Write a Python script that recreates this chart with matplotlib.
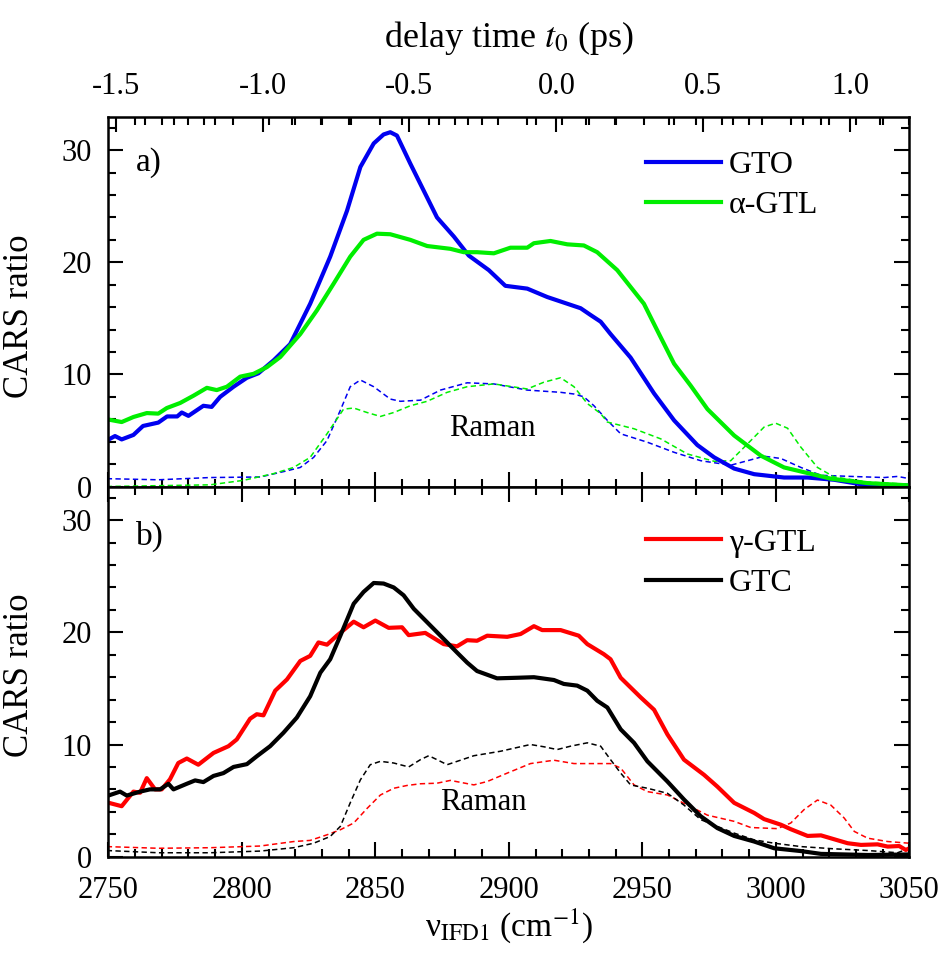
import matplotlib
matplotlib.use("Agg")
import matplotlib.pyplot as plt
from matplotlib.ticker import MultipleLocator, FixedLocator, FormatStrFormatter

plt.rcParams['font.family'] = ['Liberation Serif', 'DejaVu Serif']
plt.rcParams['mathtext.fontset'] = 'stix'
plt.rcParams['axes.unicode_minus'] = False

# panel a) GTO / alpha-GTL, CARS ratio (solid) and Raman (dashed)
nu_gto = [2749.4, 2752.5, 2755, 2759.4, 2763, 2768.7, 2772, 2775.8, 2777.5, 2780, 2785.6, 2788.7,
          2791.9, 2796.9, 2801.9, 2806.2, 2811.9, 2818.1, 2825.6, 2833.1, 2839.4, 2844.4, 2849.4,
          2853.1, 2855.6, 2858.1, 2863.1, 2868.1, 2873.1, 2879.4, 2885, 2892.5, 2898.7, 2906.9,
          2914.4, 2919.4, 2926.9, 2930.6, 2934.4, 2938.1, 2945.6, 2954.4, 2961.9, 2970.6, 2976.9,
          2984.4, 2991.9, 3003.1, 3011.9, 3021.9, 3034.4, 3050]
gto = [4.1, 4.5, 4.2, 4.6, 5.4, 5.7, 6.25, 6.25, 6.6, 6.3, 7.2, 7.1,
       8.0, 8.9, 9.7, 10.1, 11.25, 12.7, 16.3, 20.5, 24.6, 28.5, 30.6,
       31.4, 31.6, 31.3, 28.8, 26.4, 24.0, 22.3, 20.6, 19.3, 17.9, 17.65,
       16.9, 16.5, 15.9, 15.3, 14.7, 13.6, 11.5, 8.3, 5.9, 3.7, 2.6,
       1.6, 1.1, 0.8, 0.8, 0.6, 0.1, 0.1]

nu_agtl = [2749.4, 2755, 2759.4, 2764.4, 2768.7, 2771.9, 2776.9, 2781.9, 2786.9, 2790.6, 2794.4,
           2799.4, 2804.4, 2809.4, 2814.4, 2821.9, 2828.1, 2834.4, 2840.6, 2845.6, 2850.6, 2855.6,
           2863.1, 2869.4, 2878.1, 2883.1, 2888.1, 2894.4, 2900.6, 2906.9, 2909.4, 2915.6, 2921.9,
           2928.1, 2933.1, 2940.6, 2950.6, 2956.9, 2961.9, 2968.1, 2974.4, 2984.4, 2994.4, 3003.1,
           3011.9, 3020.6, 3034.4, 3050]
agtl = [6.0, 5.75, 6.2, 6.55, 6.5, 7.0, 7.45, 8.1, 8.8, 8.6, 8.9,
        9.8, 10.05, 10.65, 11.55, 13.6, 15.7, 18.1, 20.5, 22.0, 22.55, 22.5,
        22.0, 21.45, 21.2, 20.9, 20.9, 20.8, 21.3, 21.3, 21.7, 21.9, 21.6,
        21.5, 20.9, 19.3, 16.3, 13.3, 10.95, 9.0, 6.9, 4.55, 2.75, 1.7,
        1.2, 0.7, 0.3, 0.1]

nu_gto_r = [2749.4, 2768.7, 2788.1, 2806.9, 2816.9, 2821.9, 2826.9, 2831.9, 2836.9, 2840.6, 2844.4,
            2849.4, 2855.6, 2859.4, 2866.9, 2874.4, 2884.4, 2894.4, 2906.9, 2919.4, 2924.4, 2928.1,
            2931.9, 2936.9, 2941.9, 2951.9, 2961.9, 2971.9, 2983.1, 2989.4, 2995.6, 3001.9, 3009.4,
            3016.9, 3028.1, 3040.6, 3045.6, 3050]
gto_r = [0.7, 0.6, 0.8, 0.85, 1.4, 1.7, 2.6, 4.1, 6.8, 8.9, 9.5,
         8.9, 7.8, 7.6, 7.7, 8.6, 9.25, 9.15, 8.6, 8.4, 8.25, 8.0,
         7.2, 5.9, 4.7, 3.95, 3.05, 2.3, 1.9, 2.3, 2.7, 2.5, 1.7,
         1.0, 0.9, 0.8, 0.9, 0.7]

nu_agtl_r = [2749.4, 2788.1, 2800.6, 2811.9, 2819.4, 2825.6, 2831.9, 2838.1, 2841.9, 2846.9, 2851.9,
             2856.9, 2863.1, 2869.4, 2876.9, 2884.4, 2894.4, 2906.9, 2913.1, 2919.4, 2924.4, 2929.4,
             2934.4, 2936.9, 2946.9, 2956.9, 2966.9, 2976.9, 2983.1, 2989.4, 2995.6, 2999.9, 3004.4,
             3009.4, 3015.6, 3021.9, 3034.4, 3050]
agtl_r = [0.0, 0.15, 0.55, 1.15, 1.7, 2.6, 4.7, 6.9, 7.0, 6.6, 6.25,
          6.6, 7.2, 7.6, 8.4, 8.9, 9.15, 8.7, 9.3, 9.7, 8.9, 7.4,
          6.5, 5.75, 5.15, 4.25, 2.9, 2.25, 2.3, 3.8, 5.3, 5.65, 5.2,
          3.5, 1.7, 0.85, 0.4, 0.2]

# panel b) gamma-GTL / GTC
nu_ggtl = [2749.4, 2755, 2759.4, 2761.9, 2764.4, 2767.5, 2770, 2773.1, 2776.2, 2779.4, 2783.7,
           2789.4, 2795, 2798.1, 2803.1, 2805.6, 2808.1, 2812.5, 2816.9, 2821.9, 2825.6, 2828.7,
           2831.9, 2835.6, 2841.9, 2845.6, 2850, 2855, 2860, 2862.5, 2868.7, 2875.6, 2880.6,
           2884.4, 2888.1, 2891.9, 2899.4, 2904.4, 2909.4, 2912.5, 2919.4, 2926.2, 2929.4, 2935.6,
           2938.1, 2941.9, 2949.4, 2954.4, 2959.4, 2965.6, 2973.1, 2978.1, 2984.4, 2991.9, 2995.6,
           3001.9, 3005.6, 3011.9, 3016.9, 3021.9, 3026.9, 3031.9, 3038.1, 3041.9, 3046.2, 3048.7,
           3050]
ggtl = [4.85, 4.5, 5.8, 5.7, 7.0, 6.0, 6.0, 6.9, 8.35, 8.75, 8.2,
        9.25, 9.85, 10.45, 12.3, 12.7, 12.6, 14.8, 15.8, 17.45, 17.9, 19.1,
        18.9, 19.7, 20.95, 20.45, 21.05, 20.4, 20.45, 19.75, 19.95, 18.95, 18.75,
        19.3, 19.25, 19.7, 19.6, 19.85, 20.55, 20.2, 20.2, 19.7, 18.95, 18.05,
        17.6, 15.95, 14.2, 13.1, 10.9, 8.65, 7.3, 6.25, 4.8, 3.9, 3.35,
        2.85, 2.45, 1.85, 1.9, 1.55, 1.2, 1.05, 1.1, 0.9, 0.95, 0.6,
        0.75]

nu_gtc = [2749.4, 2754.4, 2756.9, 2761.9, 2765.6, 2769.4, 2772.5, 2774.4, 2779.4, 2782.5, 2785.6,
          2789.4, 2793.1, 2796.9, 2801.9, 2805.6, 2810.6, 2815.6, 2820.6, 2825.6, 2829.4, 2833.1,
          2836.9, 2841.9, 2845.6, 2849.4, 2853.1, 2856.9, 2860.6, 2864.4, 2869.4, 2874.4, 2880.6,
          2884.4, 2888.1, 2895.6, 2903.1, 2909.4, 2916.9, 2920.6, 2925.6, 2929.4, 2933.1, 2936.9,
          2941.9, 2946.9, 2951.9, 2959.4, 2965.6, 2971.9, 2978.1, 2984.4, 2991.9, 2999.4, 3009.4,
          3016.9, 3034.4, 3050]
gtc = [5.4, 5.8, 5.45, 5.8, 6.0, 6.0, 6.5, 6.0, 6.5, 6.8, 6.65,
       7.2, 7.45, 8.0, 8.25, 8.95, 9.85, 11.05, 12.4, 14.3, 16.4, 17.6,
       19.7, 22.55, 23.6, 24.4, 24.35, 24.0, 23.3, 22.1, 20.9, 19.7, 18.2,
       17.3, 16.55, 15.9, 15.95, 16.0, 15.75, 15.4, 15.25, 14.8, 13.9, 13.3,
       11.35, 10.15, 8.5, 6.7, 5.1, 3.6, 2.55, 1.85, 1.35, 0.75, 0.5,
       0.25, 0.15, 0.2]

nu_ggtl_r = [2749.4, 2768.7, 2788.1, 2806.9, 2819.4, 2825.6, 2831.9, 2836.9, 2841.9, 2846.9, 2851.9,
             2856.9, 2861.9, 2866.9, 2873.1, 2878.1, 2886.9, 2891.9, 2899.4, 2908.1, 2916.9, 2924.4,
             2938.1, 2941.9, 2946.9, 2951.9, 2959.4, 2966.9, 2974.4, 2984.4, 2990.6, 3000.6, 3005.6,
             3010.6, 3015.6, 3020.6, 3025.6, 3029.4, 3034.4, 3041.9, 3050]
ggtl_r = [0.9, 0.75, 0.8, 0.95, 1.35, 1.45, 1.95, 2.4, 3.0, 4.3, 5.5,
          6.1, 6.35, 6.5, 6.55, 6.8, 6.4, 6.7, 7.45, 8.3, 8.6, 8.3,
          8.3, 7.9, 6.4, 5.8, 5.5, 4.6, 3.7, 3.15, 2.6, 2.5, 3.0,
          4.2, 5.05, 4.6, 3.45, 2.25, 1.65, 1.35, 1.2]

nu_gtc_r = [2749.4, 2768.7, 2788.1, 2806.9, 2819.4, 2826.9, 2833.1, 2836.9, 2840.6, 2844.4, 2848.1,
            2851.9, 2856.9, 2862.5, 2866.9, 2870, 2873.1, 2876.9, 2881.9, 2886.9, 2896.9, 2908.1,
            2913.1, 2918.1, 2923.1, 2929.4, 2934.4, 2938.1, 2941.9, 2945.6, 2951.9, 2959.4, 2965.6,
            2971.9, 2978.1, 2984.4, 2991.9, 2999.4, 3009.4, 3021.9, 3034.4, 3045.6, 3050]
gtc_r = [0.55, 0.35, 0.35, 0.5, 0.8, 1.2, 1.8, 2.7, 4.8, 6.85, 8.2,
         8.5, 8.35, 8.0, 8.65, 9.0, 8.65, 8.2, 8.6, 9.0, 9.4, 10.0,
         9.8, 9.55, 9.85, 10.15, 9.85, 8.65, 7.45, 6.4, 6.1, 5.65, 4.6,
         3.3, 2.7, 2.1, 1.5, 1.2, 0.9, 0.7, 0.55, 0.35, 0.75]

delay_ticks = [-1.5, -1.0, -0.5, 0.0, 0.5, 1.0]
delay_minor = [round(-1.5 + 0.1 * i, 1) for i in range(28)]

BLUE = '#0000F0'
GREEN = '#00EE00'
RED = '#FF0000'
BLACK = '#000000'
LW = 3.0
LW_R = 1.1
DASH = (3.5, 2.2)
FS = 22


def t_of_nu(nu):
    return (nu - 2917.8) * 0.009087


def nu_of_t(t):
    return t / 0.009087 + 2917.8


def style_axis(ax, label_y):
    ax.set_xlim(2750, 3050)
    ax.set_ylim(0, 33)
    ax.xaxis.set_major_locator(MultipleLocator(50))
    ax.xaxis.set_minor_locator(MultipleLocator(10))
    ax.yaxis.set_major_locator(MultipleLocator(10))
    ax.yaxis.set_minor_locator(MultipleLocator(2))
    ax.tick_params(which='both', direction='in', width=1.5, labelsize=FS,
                   left=True, right=True, bottom=True, top=True)
    ax.tick_params(which='major', length=11)
    ax.tick_params(which='minor', length=6)
    ax.tick_params(axis='y', pad=12)
    ax.tick_params(axis='x', pad=14)
    for s in ax.spines.values():
        s.set_linewidth(1.8)
    ax.set_ylabel("CARS ratio", fontsize=25)
    ax.yaxis.set_label_coords(-0.09, label_y)


fig = plt.figure(figsize=(9.42, 9.63), dpi=100)
ax1 = fig.add_axes([0.115, 0.4948, 0.8503, 0.3842])
ax2 = fig.add_axes([0.115, 0.1104, 0.8503, 0.3844])

# top panel
ax1.plot(nu_gto_r, gto_r, color=BLUE, lw=LW_R, dashes=DASH)
ax1.plot(nu_agtl_r, agtl_r, color=GREEN, lw=LW_R, dashes=DASH)
ax1.plot(nu_gto, gto, color=BLUE, lw=LW, label='GTO')
ax1.plot(nu_agtl, agtl, color=GREEN, lw=LW, label='α-GTL')
style_axis(ax1, 0.46)
ax1.tick_params(labelbottom=False, top=False)
ax1.text(0.035, 0.875, "a)", transform=ax1.transAxes, fontsize=24, va='center')
ax1.text(2894, 5.2, "Raman", fontsize=22, ha='center', va='center')
ax1.legend(loc='upper left', bbox_to_anchor=(0.655, 0.943), frameon=False, fontsize=23,
           handlelength=2.35, handletextpad=0.25, labelspacing=0.35, borderaxespad=0)

secax = ax1.secondary_xaxis('top', functions=(t_of_nu, nu_of_t))
secax.xaxis.set_major_locator(FixedLocator(delay_ticks))
secax.xaxis.set_minor_locator(FixedLocator(delay_minor))
secax.xaxis.set_major_formatter(FormatStrFormatter('%.1f'))
secax.tick_params(which='both', direction='in', width=1.5, labelsize=FS, pad=11)
secax.tick_params(which='major', length=11)
secax.tick_params(which='minor', length=6)
secax.set_xlabel(r"delay time $t_{\mathit{0}}$ (ps)", fontsize=26, labelpad=18)

# bottom panel
ax2.plot(nu_ggtl_r, ggtl_r, color=RED, lw=LW_R, dashes=DASH)
ax2.plot(nu_gtc_r, gtc_r, color=BLACK, lw=LW_R, dashes=DASH)
ax2.plot(nu_ggtl, ggtl, color=RED, lw=LW, label='γ-GTL')
ax2.plot(nu_gtc, gtc, color=BLACK, lw=LW, label='GTC')
style_axis(ax2, 0.49)
ax2.text(0.035, 0.865, "b)", transform=ax2.transAxes, fontsize=24, va='center')
ax2.text(2890.6, 4.8, "Raman", fontsize=22, ha='center', va='center')
ax2.legend(loc='upper left', bbox_to_anchor=(0.655, 0.922), frameon=False, fontsize=23,
           handlelength=2.35, handletextpad=0.25, labelspacing=0.35, borderaxespad=0)
ax2.set_xlabel("ν$_{\\mathrm{IFD1}}$ (cm$^{\\mathrm{-1}}$)", fontsize=24, labelpad=1)

fig.savefig("out.png", dpi=100)
